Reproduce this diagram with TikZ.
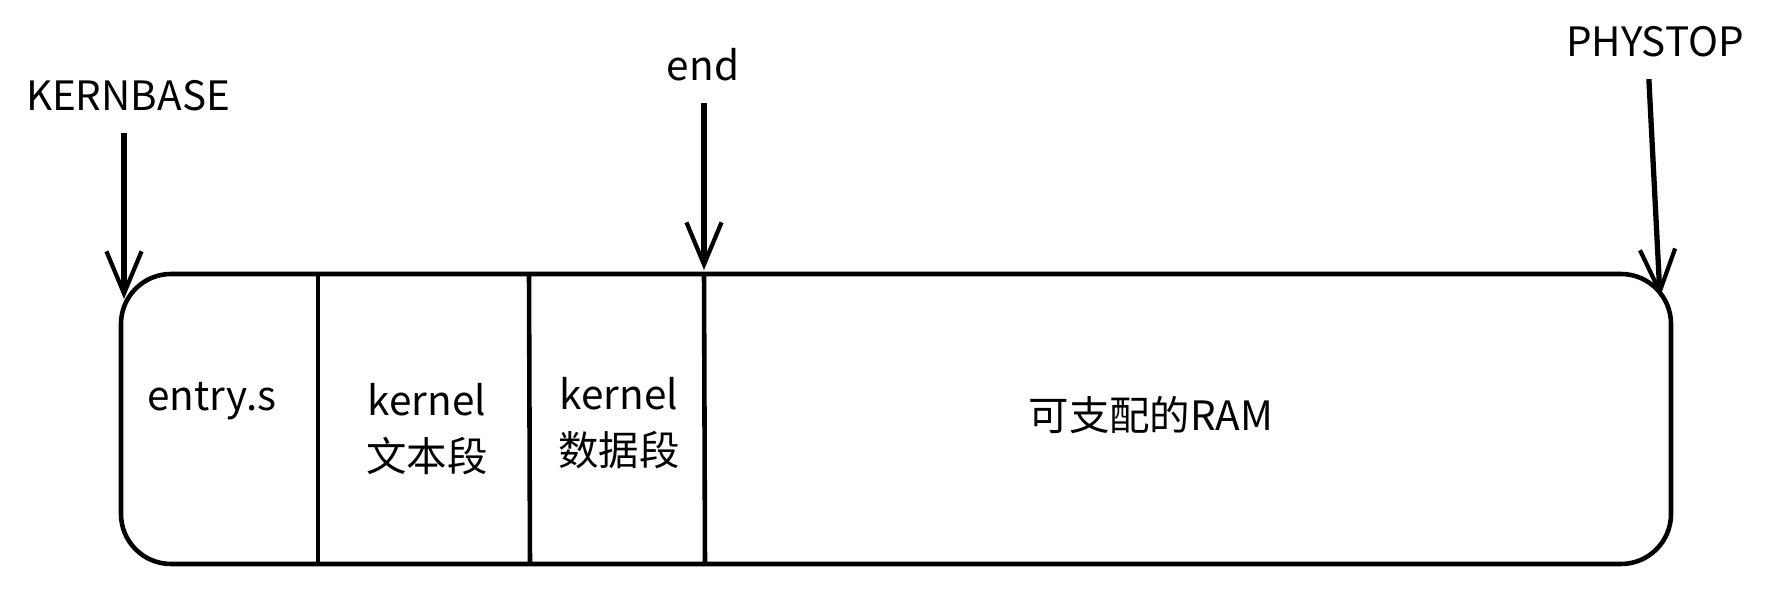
\documentclass[tikz,border=0pt]{standalone}
\usepackage{fontspec}
\newfontfamily\cjk{Noto Sans CJK SC}
\usetikzlibrary{arrows.meta}

\begin{document}
\begin{tikzpicture}[x=0.01cm,y=-0.01cm,
  lbl/.style={font=\cjk\fontsize{11.5}{16}\selectfont, align=center, inner sep=1pt},
  ptr/.style={line width=1.5pt, -{Straight Barb[length=12pt,width=10pt,line width=1.2pt]}},
  wall/.style={line width=1.3pt}]
  \useasboundingbox (0,0) rectangle (1770,589);
  % the memory strip
  \draw [wall, rounded corners=0.5cm] (121,274) rectangle (1671,564);
  \coordinate (d1t) at (318,274);
  \coordinate (d1b) at (318,566);
  \coordinate (d2t) at (529,274);
  \coordinate (d2b) at (530,566);
  \coordinate (d3t) at (704,274);
  \coordinate (d3b) at (705,566);
  \draw [wall] (d1t) -- (d1b);
  \draw [wall] (d2t) -- (d2b);
  \draw [wall] (d3t) -- (d3b);
  % regions
  \node [lbl] (entry) at (212,401) {entry.s};
  \node [lbl] (text) at (427,429) {kernel\\文本段};
  \node [lbl] (data) at (619,423) {kernel\\数据段};
  \node [lbl] (free) at (1151,415) {可支配的RAM};
  % markers
  \node [lbl] (kernbase) at (128,96) {KERNBASE};
  \node [lbl] (endmark) at (703,65) {end};
  \node [lbl] (phystop) at (1655,42) {PHYSTOP};
  \coordinate (kb) at (124,299);
  \coordinate (em) at (704,270);
  \coordinate (ps) at (1660,297);
  \draw [ptr, shorten <=5pt] (kernbase.south -| kb) -- (kb);
  \draw [ptr, shorten <=5pt] (endmark.south -| em) -- (em);
  \draw [ptr, shorten <=5pt] ([xshift=-2pt]phystop.south) -- (ps);
\end{tikzpicture}
\end{document}
